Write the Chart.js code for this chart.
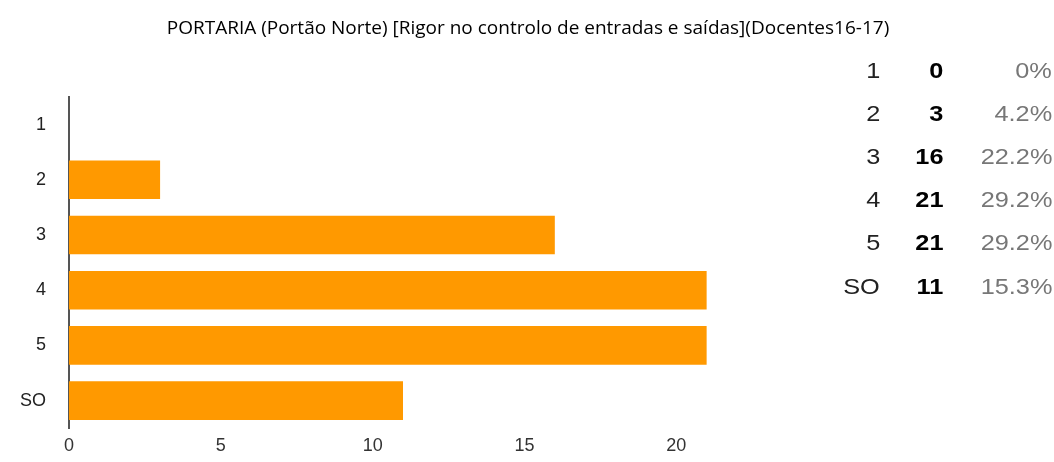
<!DOCTYPE html>
<html>
<head>
<meta charset="utf-8">
<script src="https://cdn.jsdelivr.net/npm/chart.js@4/dist/chart.umd.min.js"></script>
<style>
  html, body { margin: 0; padding: 0; background: #fff; }
  #wrap { position: relative; width: 1054px; height: 462px; overflow: hidden; }
  #c { position: absolute; left: 0; top: 0; }
  #title { position: absolute; left: 0; width: 1056px; top: 14px; text-align: center; font-family: "Open Sans", "Liberation Sans", sans-serif; font-size: 19px; line-height: 26px; color: #000; white-space: nowrap; }
  .tbl { position: absolute; font-family: "Liberation Sans", Arial, sans-serif; font-size: 22px; line-height: 22px; white-space: nowrap; transform: scaleX(1.15); transform-origin: right center; }
  .lab { color: #222; text-align: right; }
  .cnt { color: #000; font-weight: bold; text-align: right; }
  .pct { color: #777; text-align: right; }
</style>
</head>
<body>
<div id="wrap">
  <canvas id="c" width="1054" height="462"></canvas>
  <div id="title"></div>
  <div id="table"></div>
</div>
<script>
const titleText = "PORTARIA (Portão Norte) [Rigor no controlo de entradas e saídas](Docentes16-17)";
const categories = ["1", "2", "3", "4", "5", "SO"];
const counts = [0, 3, 16, 21, 21, 11];
const percents = ["0%", "4.2%", "22.2%", "29.2%", "29.2%", "15.3%"];
const xTicks = [0, 5, 10, 15, 20];

document.getElementById('title').textContent = titleText;

// side table
const tbl = document.getElementById('table');
const rowTop0 = 60, rowStep = 43.1;
categories.forEach((cat, i) => {
  const top = rowTop0 + i * rowStep;
  const mk = (cls, text, right) => {
    const d = document.createElement('div');
    d.className = 'tbl ' + cls;
    d.textContent = text;
    d.style.top = top + 'px';
    d.style.right = (1054 - right) + 'px';
    tbl.appendChild(d);
  };
  mk('lab', cat, 880);
  mk('cnt', String(counts[i]), 943);
  mk('pct', percents[i], 1052);
});

new Chart(document.getElementById('c'), {
  type: 'bar',
  data: {
    labels: categories,
    datasets: [{
      data: counts,
      backgroundColor: '#ff9900',
      borderWidth: 0,
      categoryPercentage: 0.7,
      barPercentage: 1.0
    }]
  },
  options: {
    indexAxis: 'y',
    responsive: false,
    animation: false,
    layout: { padding: { left: 0, right: 317, top: 97, bottom: 0 } },
    plugins: {
      legend: { display: false },
      tooltip: { enabled: false },
      title: { display: false }
    },
    scales: {
      x: {
        min: 0,
        max: 22,
        grid: { display: false, drawTicks: false },
        border: { display: false },
        afterBuildTicks: (s) => { s.ticks = xTicks.map(v => ({ value: v })); },
        afterFit: (s) => { s.height = 29; },
        ticks: {
          padding: 7,
          color: '#333',
          font: { family: '"Liberation Sans", Arial, sans-serif', size: 18 }
        }
      },
      y: {
        grid: { display: false, drawTicks: false },
        border: { display: true, color: '#555', width: 2 },
        afterFit: (s) => { s.width = 69; },
        ticks: {
          padding: 23,
          color: '#222',
          font: { family: '"Liberation Sans", Arial, sans-serif', size: 18 }
        }
      }
    }
  }
});
</script>
</body>
</html>
